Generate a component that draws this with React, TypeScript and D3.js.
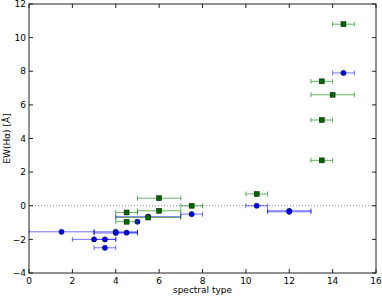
import React from 'react';
import * as d3 from 'd3';

// blue circles: spectral type, EW, spectral type uncertainty
const blueX = [1.5, 3, 3.5, 3.5, 4, 4, 4.5, 5, 5.5, 7.5, 10.5, 12, 12, 14.5];
const blueY = [-1.55, -2.0, -2.0, -2.5, -1.55, -1.62, -1.6, -0.95, -0.65, -0.5, 0.0, -0.3, -0.36, 7.9];
const blueErr = [1.5, 1, 0.5, 0.5, 1, 1, 0.5, 0, 1.5, 0.5, 0.5, 1, 1, 0.5];

// green squares
const greenX = [4.5, 4.5, 5.5, 6, 6, 7.5, 10.5, 13.5, 13.5, 13.5, 14, 14.5];
const greenY = [-0.4, -0.95, -0.7, 0.45, -0.3, 0.0, 0.7, 2.7, 5.1, 7.4, 6.6, 10.8];
const greenErr = [0.5, 0.5, 1.5, 1, 1, 0.5, 0.5, 0.5, 0.5, 0.5, 1, 0.5];

const xTicks = [0, 2, 4, 6, 8, 10, 12, 14, 16];
const yTicks = [-4, -2, 0, 2, 4, 6, 8, 10, 12];

const W = 382;
const H = 296;
const margin = { left: 29, right: 6, top: 4, bottom: 23 };
const FONT = 'DejaVu Sans, sans-serif';

const fmt = (v: number) => (v < 0 ? '\u2212' + Math.abs(v) : String(v));

export default function App() {
  const x = d3.scaleLinear().domain([0, 16]).range([margin.left, W - margin.right]);
  const y = d3.scaleLinear().domain([-4, 12]).range([H - margin.bottom, margin.top]);
  const [x0, x1] = x.range();
  const [y0, y1] = y.range();
  const cap = 2.5;

  const errBars = (xs: number[], ys: number[], es: number[], color: string, key: string) =>
    xs.map((v, i) => {
      if (!es[i]) return null;
      const a = Math.max(x(v - es[i]), x0);
      const b = x(v + es[i]);
      const yy = y(ys[i]);
      return (
        <g key={key + i} stroke={color} strokeWidth={1}>
          <line x1={a} x2={b} y1={yy} y2={yy} />
          {v - es[i] >= 0 && <line x1={a} x2={a} y1={yy - cap} y2={yy + cap} />}
          <line x1={b} x2={b} y1={yy - cap} y2={yy + cap} />
        </g>
      );
    });

  return (
    <svg width={W} height={H} style={{ position: 'absolute', left: 0, top: 0, background: '#fff' }}>
      <rect x={0} y={0} width={W} height={H} fill="#fff" />
      <defs>
        <clipPath id="plot">
          <rect x={x0} y={y1} width={x1 - x0} height={y0 - y1} />
        </clipPath>
      </defs>

      <line x1={x0} x2={x1} y1={y(0)} y2={y(0)} stroke="#888" strokeWidth={1} strokeDasharray="1,2" />

      <g clipPath="url(#plot)">
        {errBars(blueX, blueY, blueErr, 'rgba(0,0,255,0.55)', 'be')}
        {blueX.map((v, i) => (
          <circle key={'b' + i} cx={x(v)} cy={y(blueY[i])} r={2.6} fill="#0000ff" stroke="#000033" strokeWidth={0.5} />
        ))}
        {errBars(greenX, greenY, greenErr, 'rgba(0,128,0,0.6)', 'ge')}
        {greenX.map((v, i) => (
          <rect key={'g' + i} x={x(v) - 2.5} y={y(greenY[i]) - 2.5} width={5} height={5} fill="#006400" stroke="#002200" strokeWidth={0.5} />
        ))}
      </g>

      <rect x={x0} y={y1} width={x1 - x0} height={y0 - y1} fill="none" stroke="#222" strokeWidth={1} />

      {xTicks.map((t) => (
        <g key={'xt' + t}>
          <line x1={x(t)} x2={x(t)} y1={y0} y2={y0 - 4} stroke="#222" />
          <line x1={x(t)} x2={x(t)} y1={y1} y2={y1 + 4} stroke="#222" />
          <text x={x(t)} y={y0 + 11} textAnchor="middle" fontFamily={FONT} fontSize={9}>
            {fmt(t)}
          </text>
        </g>
      ))}
      {yTicks.map((t) => (
        <g key={'yt' + t}>
          <line x1={x0} x2={x0 + 4} y1={y(t)} y2={y(t)} stroke="#222" />
          <line x1={x1} x2={x1 - 4} y1={y(t)} y2={y(t)} stroke="#222" />
          <text x={x0 - 3} y={y(t) + 3.2} textAnchor="end" fontFamily={FONT} fontSize={9}>
            {fmt(t)}
          </text>
        </g>
      ))}

      <text x={(x0 + x1) / 2} y={H - 3} textAnchor="middle" fontFamily={FONT} fontSize={9}>
        spectral type
      </text>
      <text
        transform={`translate(10,${(y0 + y1) / 2}) rotate(-90)`}
        textAnchor="middle"
        fontFamily={FONT}
        fontSize={9}
      >
        EW(Hα) [Å]
      </text>
    </svg>
  );
}
